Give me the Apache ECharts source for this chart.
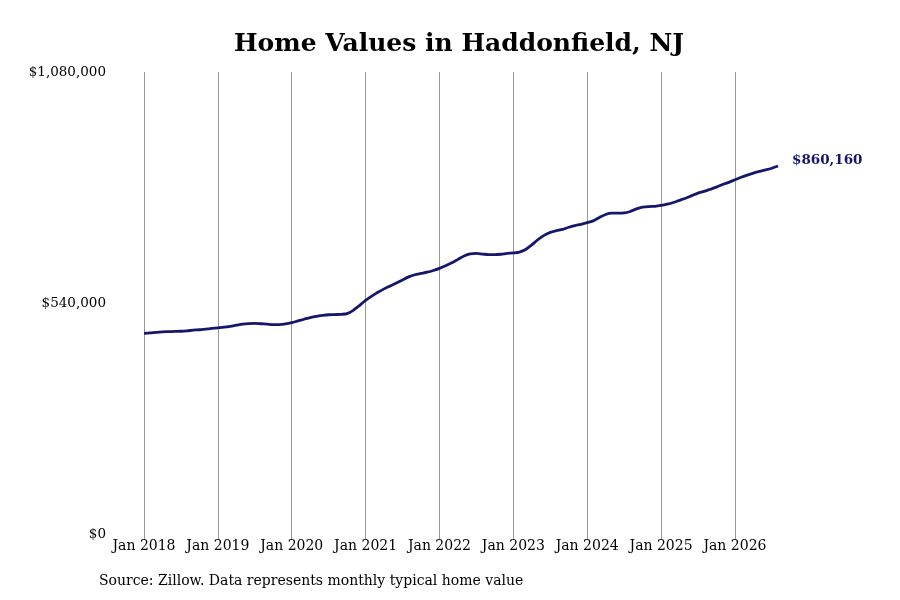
<!DOCTYPE html>
<html lang="en">
<head>
    <meta charset="UTF-8">
    <title>Home Values in Haddonfield, NJ</title>
    <style>
        html, body { margin: 0; padding: 0; background: #fff; }
        #chart { width: 900px; height: 600px; }
    </style>
</head>
<body>
    <div id="chart"></div>
    <script src="https://cdn.jsdelivr.net/npm/echarts@6/dist/echarts.min.js"></script>
    <script type="text/javascript">
        // monthly typical home value, Jan 2018 - Aug 2026
        var years = [2018, 2019, 2020, 2021, 2022, 2023, 2024, 2025, 2026]
        var monthNames = ['Jan', 'Feb', 'Mar', 'Apr', 'May', 'Jun', 'Jul', 'Aug', 'Sep', 'Oct', 'Nov', 'Dec']
        var values2018 = [469000, 470000, 471500, 472500, 473000, 473500, 474000, 475000, 476500, 477500, 479000, 480500]
        var values2019 = [482000, 483500, 485500, 488000, 490500, 492000, 492500, 491500, 490500, 489500, 489500, 491000]
        var values2020 = [494000, 498000, 502000, 506000, 509000, 511000, 512500, 513000, 513500, 515000, 523000, 534000]
        var values2021 = [546000, 556000, 565000, 573000, 580000, 587000, 594000, 601000, 606000, 609000, 612000, 616000]
        var values2022 = [621000, 627000, 634000, 642000, 650000, 655000, 656000, 654500, 653000, 653000, 654000, 656000]
        var values2023 = [657000, 659000, 665000, 676000, 688000, 698000, 705000, 709000, 712000, 717000, 721000, 724000]
        var values2024 = [728000, 732000, 740000, 747000, 750000, 750000, 750500, 754000, 760000, 764000, 765500, 766000]
        var values2025 = [768000, 771000, 775000, 780000, 785000, 791000, 797000, 801000, 806000, 811000, 817000, 822000]
        var values2026 = [828000, 834000, 839000, 843500, 847500, 851000, 855000, 860160]
        var yTicks = [0, 540000, 1080000]

        var values = [].concat(values2018, values2019, values2020, values2021, values2022,
            values2023, values2024, values2025, values2026)
        var months = []
        years.forEach(y => {
            monthNames.forEach(m => { months.push(m + ' ' + y) })
        })
        months = months.slice(0, values.length)

        function money(v) {
            return '$' + v.toLocaleString('en-US')
        }

        var chart = echarts.init(document.getElementById('chart'))
        var isJan = (i) => i % 12 === 0

        chart.setOption({
            backgroundColor: '#fff',
            textStyle: { fontFamily: 'DejaVu Serif' },
            title: {
                text: 'Home Values in Haddonfield, NJ',
                left: 234,
                top: 32,
                padding: 0,
                textStyle: { fontFamily: 'DejaVu Serif', fontSize: 25, fontWeight: 'bold', color: '#000' }
            },
            graphic: [{
                type: 'text',
                left: 99,
                top: 574,
                style: {
                    text: 'Source: Zillow. Data represents monthly typical home value',
                    font: '14px "DejaVu Serif"',
                    fill: '#000'
                }
            }],
            grid: { left: 144, right: 122, top: 72, bottom: 66 },
            xAxis: {
                type: 'category',
                data: months,
                boundaryGap: false,
                axisLine: { show: false },
                axisTick: {
                    show: true,
                    interval: isJan,
                    length: 6,
                    lineStyle: { color: '#999' }
                },
                axisLabel: {
                    interval: isJan,
                    color: '#000',
                    fontSize: 14,
                    margin: 5
                },
                splitLine: {
                    show: true,
                    interval: isJan,
                    lineStyle: { color: '#999', width: 1 }
                }
            },
            yAxis: {
                type: 'value',
                min: yTicks[0],
                max: yTicks[2],
                interval: yTicks[1],
                axisLine: { show: false },
                axisTick: { show: false },
                splitLine: { show: false },
                axisLabel: {
                    color: '#000',
                    fontSize: 13.5,
                    margin: 38,
                    padding: [4, 0, 0, 0],
                    formatter: money
                }
            },
            series: [{
                type: 'line',
                data: values,
                smooth: 0.3,
                symbol: 'none',
                lineStyle: { color: '#16166c', width: 2.8 },
                endLabel: {
                    show: true,
                    formatter: (p) => money(p.value),
                    color: '#16166c',
                    fontWeight: 'bold',
                    fontSize: 13.5,
                    distance: 14,
                    offset: [0, -6]
                }
            }]
        })
    </script>
</body>
</html>
